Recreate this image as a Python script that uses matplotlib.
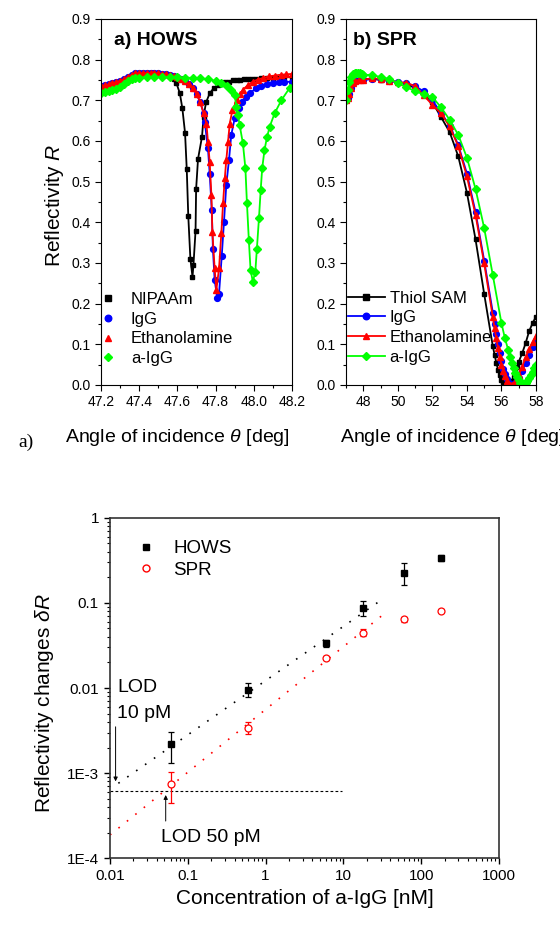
import matplotlib
matplotlib.use("Agg")
import matplotlib.pyplot as plt
from matplotlib.lines import Line2D
from matplotlib.ticker import MultipleLocator, LogLocator, NullFormatter

plt.rcParams["font.family"] = ["Liberation Sans", "DejaVu Sans"]
plt.rcParams["mathtext.fontset"] = "custom"
plt.rcParams["mathtext.rm"] = "Liberation Sans"
plt.rcParams["mathtext.it"] = "Liberation Sans:italic"

# ---------------------------------------------------------------- panel a) HOWS
HOWS_NIPAAM_X = [47.20, 47.22, 47.24, 47.26, 47.28, 47.30, 47.32, 47.34, 47.36, 47.38,
                 47.40, 47.42, 47.44, 47.46, 47.48, 47.50, 47.52, 47.54, 47.56, 47.58,
                 47.595, 47.613, 47.626, 47.640, 47.649, 47.657, 47.668, 47.679, 47.684,
                 47.695, 47.698, 47.708, 47.729, 47.737, 47.750, 47.769, 47.79, 47.81,
                 47.83, 47.85, 47.87, 47.89, 47.91, 47.93, 47.95, 47.97, 47.99, 48.01,
                 48.04, 48.07, 48.10, 48.13, 48.16, 48.20]
HOWS_NIPAAM_R = [0.735, 0.737, 0.739, 0.742, 0.745, 0.748, 0.752, 0.758, 0.763, 0.765,
                 0.766, 0.766, 0.766, 0.766, 0.765, 0.765, 0.764, 0.763, 0.760, 0.752,
                 0.742, 0.717, 0.680, 0.620, 0.530, 0.415, 0.310, 0.266, 0.295,
                 0.379, 0.482, 0.556, 0.611, 0.660, 0.695, 0.717, 0.730, 0.737,
                 0.741, 0.744, 0.746, 0.749, 0.750, 0.751, 0.752, 0.752, 0.753, 0.753,
                 0.754, 0.755, 0.756, 0.756, 0.757, 0.758]

HOWS_IGG_X = [47.20, 47.22, 47.24, 47.26, 47.28, 47.30, 47.32, 47.34, 47.36, 47.38,
              47.40, 47.42, 47.44, 47.46, 47.48, 47.50, 47.52, 47.54, 47.56, 47.58,
              47.60, 47.62, 47.64, 47.66, 47.68, 47.70, 47.72, 47.738, 47.743, 47.760,
              47.769, 47.780, 47.786, 47.795, 47.809, 47.818, 47.832, 47.844, 47.856,
              47.870, 47.882, 47.900, 47.922, 47.94, 47.961, 47.98, 48.013, 48.04,
              48.07, 48.10, 48.13, 48.16, 48.20]
HOWS_IGG_R = [0.735, 0.737, 0.739, 0.742, 0.745, 0.748, 0.752, 0.758, 0.763, 0.766,
              0.767, 0.767, 0.767, 0.767, 0.767, 0.766, 0.765, 0.764, 0.762, 0.760,
              0.757, 0.753, 0.747, 0.740, 0.730, 0.716, 0.695, 0.668, 0.647, 0.582,
              0.520, 0.430, 0.334, 0.258, 0.213, 0.225, 0.316, 0.402, 0.492,
              0.553, 0.615, 0.656, 0.680, 0.697, 0.709, 0.718, 0.730, 0.736,
              0.740, 0.743, 0.744, 0.745, 0.746]

HOWS_ETA_X = [47.20, 47.22, 47.24, 47.26, 47.28, 47.30, 47.32, 47.34, 47.36, 47.38,
              47.40, 47.42, 47.44, 47.46, 47.48, 47.50, 47.52, 47.54, 47.56, 47.58,
              47.60, 47.62, 47.64, 47.66, 47.68, 47.70, 47.72, 47.737, 47.752, 47.760,
              47.769, 47.778, 47.783, 47.795, 47.804, 47.818, 47.830, 47.839, 47.848,
              47.856, 47.865, 47.874, 47.888, 47.911, 47.93, 47.943, 47.97, 47.995,
              48.02, 48.05, 48.08, 48.11, 48.14, 48.17, 48.20]
HOWS_ETA_R = [0.735, 0.737, 0.739, 0.742, 0.745, 0.748, 0.752, 0.758, 0.763, 0.766,
              0.767, 0.767, 0.767, 0.767, 0.767, 0.766, 0.765, 0.764, 0.762, 0.760,
              0.757, 0.753, 0.747, 0.740, 0.730, 0.716, 0.695, 0.668, 0.643, 0.598,
              0.549, 0.467, 0.377, 0.287, 0.234, 0.287, 0.373, 0.447, 0.508,
              0.553, 0.598, 0.643, 0.676, 0.700, 0.716, 0.726, 0.738, 0.746,
              0.751, 0.755, 0.759, 0.761, 0.763, 0.764, 0.765]

HOWS_AIGG_X = [47.20, 47.22, 47.24, 47.26, 47.28, 47.30, 47.32, 47.34, 47.36, 47.38,
               47.40, 47.44, 47.48, 47.52, 47.56, 47.60, 47.64, 47.68, 47.72, 47.76,
               47.80, 47.83, 47.86, 47.88, 47.90, 47.909, 47.917, 47.926, 47.943,
               47.956, 47.964, 47.974, 47.983, 47.995, 48.008, 48.016, 48.027, 48.036,
               48.044, 48.056, 48.069, 48.083, 48.109, 48.144, 48.187]
HOWS_AIGG_R = [0.718, 0.720, 0.722, 0.725, 0.729, 0.733, 0.740, 0.747, 0.752, 0.755,
               0.756, 0.757, 0.757, 0.757, 0.757, 0.757, 0.756, 0.755, 0.754, 0.752,
               0.748, 0.743, 0.735, 0.726, 0.712, 0.684, 0.664, 0.639, 0.594,
               0.533, 0.448, 0.357, 0.283, 0.254, 0.279, 0.334, 0.410, 0.479,
               0.533, 0.578, 0.609, 0.635, 0.668, 0.700, 0.730]

# ---------------------------------------------------------------- panel b) SPR
SPR_THIOL_X = [47.0, 47.1, 47.2, 47.3, 47.5, 47.75, 48.0, 48.5, 49.0, 49.5, 50.0, 50.5,
               51.0, 51.5, 52.0, 52.5, 53.0, 53.5, 54.0, 54.5, 55.0, 55.5, 55.6, 55.7,
               55.8, 55.9, 56.0, 56.1, 56.2, 56.3, 56.4, 56.5, 56.6, 56.7, 56.8, 56.9,
               57.0, 57.2, 57.4, 57.6, 57.8, 58.0]
SPR_THIOL_R = [0.700, 0.710, 0.725, 0.738, 0.748, 0.750, 0.752, 0.753, 0.750, 0.748, 0.745, 0.740,
               0.730, 0.716, 0.695, 0.659, 0.622, 0.562, 0.473, 0.358, 0.224, 0.095, 0.075, 0.055,
               0.038, 0.024, 0.013, 0.006, 0.002, 0.000, 0.001, 0.004, 0.010, 0.020, 0.033, 0.045,
               0.057, 0.078, 0.103, 0.132, 0.152, 0.168]

SPR_IGG_X = [47.0, 47.1, 47.2, 47.3, 47.4, 47.5, 47.75, 48.0, 48.5, 49.0, 49.5, 50.0, 50.5,
             51.0, 51.5, 52.0, 52.5, 53.0, 53.5, 54.0, 54.5, 55.0, 55.5, 55.6, 55.7,
             55.8, 55.9, 56.0, 56.1, 56.2, 56.3, 56.4, 56.5, 56.6, 56.7, 56.8, 56.9,
             57.0, 57.2, 57.4, 57.6, 57.8, 58.0]
SPR_IGG_R = [0.700, 0.706, 0.716, 0.730, 0.742, 0.748, 0.750, 0.750, 0.752, 0.752, 0.748, 0.745, 0.742,
             0.735, 0.722, 0.700, 0.670, 0.638, 0.590, 0.520, 0.425, 0.306, 0.178, 0.150, 0.125,
             0.100, 0.078, 0.058, 0.040, 0.026, 0.015, 0.007, 0.002, 0.000, 0.001, 0.004, 0.010,
             0.018, 0.035, 0.055, 0.075, 0.093, 0.105]

SPR_ETA_X = [47.0, 47.1, 47.2, 47.3, 47.4, 47.5, 47.75, 48.0, 48.5, 49.0, 49.5, 50.0, 50.5,
             51.0, 51.5, 52.0, 52.5, 53.0, 53.5, 54.0, 54.5, 55.0, 55.5, 55.6, 55.7,
             55.8, 55.9, 56.0, 56.1, 56.2, 56.3, 56.4, 56.5, 56.6, 56.7, 56.8, 56.9,
             57.0, 57.2, 57.4, 57.6, 57.8, 58.0]
SPR_ETA_R = [0.700, 0.705, 0.715, 0.730, 0.742, 0.748, 0.750, 0.750, 0.755, 0.752, 0.748, 0.745, 0.743,
             0.735, 0.712, 0.689, 0.668, 0.636, 0.587, 0.513, 0.418, 0.299, 0.167, 0.140, 0.115,
             0.090, 0.070, 0.050, 0.034, 0.021, 0.011, 0.005, 0.001, 0.000, 0.002, 0.007, 0.015,
             0.025, 0.045, 0.068, 0.088, 0.105, 0.120]

SPR_AIGG_X = [47.0, 47.1, 47.2, 47.3, 47.4, 47.5, 47.6, 47.7, 47.8, 47.9, 48.0, 48.5, 49.0,
              49.5, 50.0, 50.5, 51.0, 51.5, 52.0, 52.5, 53.0, 53.5, 54.0, 54.5, 55.0, 55.5,
              56.0, 56.2, 56.4, 56.5, 56.6, 56.7, 56.8, 56.9, 57.0, 57.1, 57.2, 57.3, 57.4,
              57.5, 57.6, 57.7, 57.8, 57.9, 58.0]
SPR_AIGG_R = [0.700, 0.725, 0.745, 0.758, 0.764, 0.767, 0.768, 0.767, 0.766, 0.764, 0.762, 0.763, 0.757,
              0.753, 0.742, 0.733, 0.722, 0.715, 0.708, 0.683, 0.652, 0.615, 0.559, 0.482, 0.386, 0.270,
              0.152, 0.115, 0.085, 0.070, 0.055, 0.042, 0.030, 0.020, 0.012, 0.006, 0.003, 0.002, 0.004,
              0.009, 0.016, 0.024, 0.032, 0.041, 0.050]

# ---------------------------------------------------------------- bottom: dose response
CONC_NM = [0.06, 0.6, 6.0, 18.0, 60.0, 180.0]
HOWS_DR = [0.0022, 0.0096, 0.0337, 0.0877, 0.226, 0.339]
HOWS_DR_LO = [0.00133, 0.00777, 0.0305, 0.0707, 0.162, 0.313]
HOWS_DR_HI = [0.00307, 0.01135, 0.0369, 0.105, 0.291, 0.365]
SPR_DR = [0.000746, 0.00342, 0.0223, 0.0446, 0.064, 0.081]
SPR_DR_LO = [0.000451, 0.00288, 0.0212, 0.0408, 0.0595, 0.078]
SPR_DR_HI = [0.00104, 0.00403, 0.0235, 0.0489, 0.0688, 0.084]

HOWS_FIT_X = [0.0128, 32.0]
HOWS_FIT_Y = [0.00076, 0.111]
SPR_FIT_X = [0.01, 32.0]
SPR_FIT_Y = [0.000188, 0.072]
LOD_X = [0.01, 9.7]
LOD_Y = [0.000618, 0.000618]

GREEN = "#00ff00"


def style_top_axis(ax):
    ax.set_ylim(0.0, 0.9)
    ax.yaxis.set_major_locator(MultipleLocator(0.1))
    ax.yaxis.set_minor_locator(MultipleLocator(0.05))
    ax.set_yticks([i / 10 for i in range(10)])
    ax.set_yticklabels([f"{i / 10:.1f}" for i in range(10)])
    ax.tick_params(which="both", direction="out", top=False, right=False, labelsize=10)
    ax.tick_params(which="major", length=4, width=0.8)
    ax.tick_params(which="minor", length=2.5, width=0.8)
    for sp in ax.spines.values():
        sp.set_linewidth(0.8)


def plot_hows(ax):
    series = [
        (HOWS_NIPAAM_X, HOWS_NIPAAM_R, "k", "s", 3.5, "NIPAAm"),
        (HOWS_IGG_X, HOWS_IGG_R, "#0000ff", "o", 4.2, "IgG"),
        (HOWS_ETA_X, HOWS_ETA_R, "#ff0000", "^", 4.5, "Ethanolamine"),
        (HOWS_AIGG_X, HOWS_AIGG_R, GREEN, "D", 3.8, "a-IgG"),
    ]
    handles = []
    for x, r, c, m, ms, lab in series:
        ax.plot(x, r, color=c, lw=1.3, marker=m, ms=ms, mec=c, mfc=c)
        handles.append(Line2D([], [], ls="none", marker=m, ms=ms + 0.5, color=c, label=lab))
    ax.set_xlim(47.2, 48.2)
    ax.xaxis.set_major_locator(MultipleLocator(0.2))
    ax.xaxis.set_minor_locator(MultipleLocator(0.1))
    ax.set_xticklabels([f"{v:.1f}" for v in ax.get_xticks()])
    style_top_axis(ax)
    ax.text(0.066, 0.94, "a) HOWS", transform=ax.transAxes, fontsize=14,
            fontweight="bold", ha="left", va="center")
    ax.legend(handles=handles, loc="upper left", bbox_to_anchor=(0.0, 0.254),
              frameon=False, fontsize=12, handlelength=0.8, handletextpad=1.0,
              labelspacing=0.28, borderpad=0, borderaxespad=0)


def plot_spr(ax):
    series = [
        (SPR_THIOL_X, SPR_THIOL_R, "k", "s", 3.5, "Thiol SAM"),
        (SPR_IGG_X, SPR_IGG_R, "#0000ff", "o", 4.2, "IgG"),
        (SPR_ETA_X, SPR_ETA_R, "#ff0000", "^", 4.5, "Ethanolamine"),
        (SPR_AIGG_X, SPR_AIGG_R, GREEN, "D", 3.8, "a-IgG"),
    ]
    handles = []
    for x, r, c, m, ms, lab in series:
        ax.plot(x, r, color=c, lw=1.3, marker=m, ms=ms, mec=c, mfc=c)
        handles.append(Line2D([], [], lw=1.3, marker=m, ms=ms + 0.5, color=c, label=lab))
    ax.set_xlim(47.0, 58.0)
    ax.xaxis.set_major_locator(MultipleLocator(2))
    ax.xaxis.set_minor_locator(MultipleLocator(1))
    ax.set_xticks([48, 50, 52, 54, 56, 58])
    style_top_axis(ax)
    ax.text(0.035, 0.94, "b) SPR", transform=ax.transAxes, fontsize=14,
            fontweight="bold", ha="left", va="center")
    ax.legend(handles=handles, loc="upper left", bbox_to_anchor=(0.01, 0.258),
              frameon=False, fontsize=12, handlelength=2.2, handletextpad=0.3,
              labelspacing=0.28, borderpad=0, borderaxespad=0)


def plot_dose(ax):
    ax.set_xscale("log")
    ax.set_yscale("log")
    ax.plot(HOWS_FIT_X, HOWS_FIT_Y, color="k", lw=1.2, ls=(0, (1, 5.5)))
    ax.plot(SPR_FIT_X, SPR_FIT_Y, color="#ff0000", lw=1.2, ls=(0, (1, 5.5)))
    ax.plot(LOD_X, LOD_Y, color="k", lw=0.8, ls=(0, (2.5, 2)))

    h_lo = [v - lo for v, lo in zip(HOWS_DR, HOWS_DR_LO)]
    h_hi = [hi - v for v, hi in zip(HOWS_DR, HOWS_DR_HI)]
    s_lo = [v - lo for v, lo in zip(SPR_DR, SPR_DR_LO)]
    s_hi = [hi - v for v, hi in zip(SPR_DR, SPR_DR_HI)]
    ax.errorbar(CONC_NM, HOWS_DR, yerr=[h_lo, h_hi], fmt="s", color="k", ms=4.5,
                ecolor="k", elinewidth=0.9, capsize=2.5, capthick=0.9, zorder=4)
    ax.errorbar(CONC_NM, SPR_DR, yerr=[s_lo, s_hi], fmt="o", color="#ff0000", ms=5,
                mfc="white", mec="#ff0000", mew=0.9, ecolor="#ff0000",
                elinewidth=0.9, capsize=2.5, capthick=0.9, zorder=4)

    arrow = dict(arrowstyle="-|>", lw=0.7, color="k", mutation_scale=6,
                 shrinkA=0, shrinkB=0)
    ax.annotate("", xy=(0.0118, 0.00080), xytext=(0.0118, 0.0035), arrowprops=arrow)
    ax.annotate("", xy=(0.052, 0.000554), xytext=(0.052, 0.000274), arrowprops=arrow)
    ax.text(0.0123, 0.01027, "LOD", fontsize=14, ha="left", va="center")
    ax.text(0.0123, 0.00508, "10 pM", fontsize=14, ha="left", va="center")
    ax.text(0.0453, 0.000177, "LOD 50 pM", fontsize=14, ha="left", va="center")

    ax.set_xlim(0.01, 1000)
    ax.set_ylim(1e-4, 1)
    ax.set_xticks([0.01, 0.1, 1, 10, 100, 1000])
    ax.set_xticklabels(["0.01", "0.1", "1", "10", "100", "1000"])
    ax.set_yticks([1e-4, 1e-3, 0.01, 0.1, 1])
    ax.set_yticklabels(["1E-4", "1E-3", "0.01", "0.1", "1"])
    minor = LogLocator(base=10, subs=[2, 3, 4, 5, 6, 7, 8, 9], numticks=20)
    ax.xaxis.set_minor_locator(minor)
    ax.yaxis.set_minor_locator(LogLocator(base=10, subs=[2, 3, 4, 5, 6, 7, 8, 9], numticks=20))
    ax.xaxis.set_minor_formatter(NullFormatter())
    ax.yaxis.set_minor_formatter(NullFormatter())
    ax.tick_params(which="both", direction="out", top=False, right=False, labelsize=11)
    ax.tick_params(which="major", length=4.5, width=1.0)
    ax.tick_params(which="minor", length=2.5, width=0.8)
    for sp in ax.spines.values():
        sp.set_linewidth(1.2)
        sp.set_color("#333333")

    handles = [
        Line2D([], [], ls="none", marker="s", ms=4.5, color="k", label="HOWS"),
        Line2D([], [], ls="none", marker="o", ms=5, mfc="white", mec="#ff0000", label="SPR"),
    ]
    ax.legend(handles=handles, loc="upper left", bbox_to_anchor=(0.068, 0.934),
              frameon=False, fontsize=13.5, handlelength=1.0, handletextpad=0.97,
              labelspacing=0.23, borderpad=0, borderaxespad=0)


def main():
    W, H = 560, 939
    fig = plt.figure(figsize=(W / 100, H / 100), dpi=100)

    ax_a = fig.add_axes([101 / W, 1 - 385 / H, 191 / W, 366 / H])
    ax_b = fig.add_axes([346 / W, 1 - 385 / H, 190 / W, 366 / H])
    ax_c = fig.add_axes([110 / W, 1 - 858.3 / H, 389 / W, 340.6 / H])

    plot_hows(ax_a)
    plot_spr(ax_b)
    plot_dose(ax_c)

    fig.text(55 / W, 1 - 205 / H, "Reflectivity $\\mathit{R}$", rotation=90,
             fontsize=15, ha="center", va="center")
    fig.text(177 / W, 1 - 437 / H, "Angle of incidence $\\theta$ [deg]",
             fontsize=14, ha="center", va="center")
    fig.text(452 / W, 1 - 437 / H, "Angle of incidence $\\theta$ [deg]",
             fontsize=14, ha="center", va="center")
    fig.text(18 / W, 1 - 442 / H, "a)", family="Liberation Serif", fontsize=14,
             ha="left", va="center")
    fig.text(45 / W, 1 - 703 / H, "Reflectivity changes $\\delta\\mathit{R}$",
             rotation=90, fontsize=15, ha="center", va="center")
    fig.text(304.5 / W, 1 - 898 / H, "Concentration of a-IgG [nM]",
             fontsize=15, ha="center", va="center")

    fig.savefig("out.png", dpi=100)
    plt.close(fig)


if __name__ == "__main__":
    main()
